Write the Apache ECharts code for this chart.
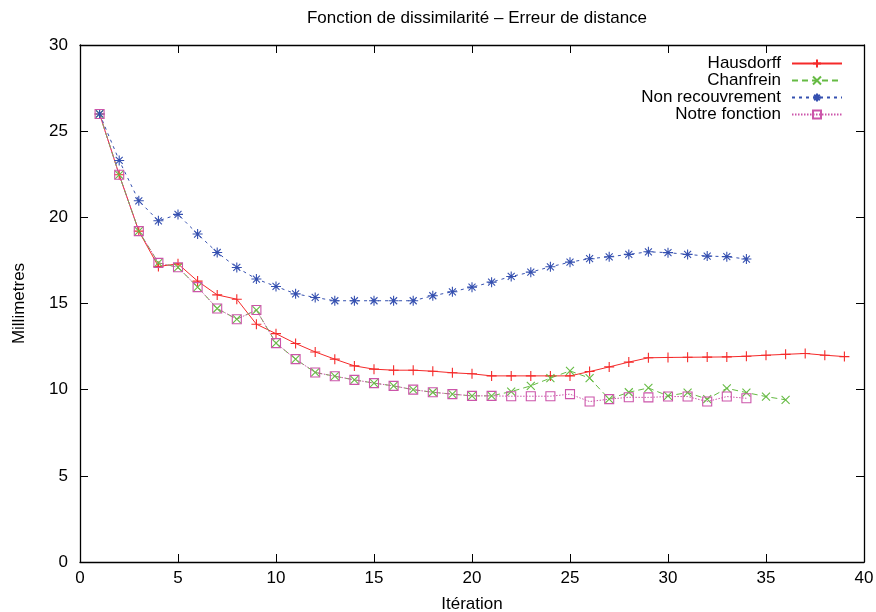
<!DOCTYPE html>
<html><head><meta charset="utf-8">
<script src="https://cdn.jsdelivr.net/npm/echarts@6/dist/echarts.min.js"></script>
<style>html,body{margin:0;padding:0;background:#fff}#c{width:876px;height:612px}</style>
</head><body><div id="c"></div>
<script>
const iterations = [1,2,3,4,5,6,7,8,9,10,11,12,13,14,15,16,17,18,19,20,21,22,23,24,25,26,27,28,29,30,31,32,33,34,35,36,37,38,39];
const hausdorff = [26.0,22.47,19.2,17.15,17.3,16.3,15.5,15.25,13.8,13.25,12.68,12.19,11.77,11.38,11.19,11.13,11.13,11.07,10.98,10.92,10.8,10.8,10.8,10.8,10.8,11.05,11.32,11.6,11.85,11.87,11.88,11.89,11.9,11.94,12.0,12.05,12.1,12.0,11.92];
const chanfrein = [26.0,22.47,19.2,17.36,17.1,15.95,14.71,14.09,14.62,12.7,11.77,11.0,10.78,10.57,10.38,10.22,10.0,9.85,9.74,9.64,9.64,9.89,10.22,10.67,11.09,10.67,9.45,9.85,10.1,9.64,9.83,9.45,10.08,9.83,9.6,9.41];
const nonRecouvrement = [26.0,23.3,20.96,19.8,20.17,19.03,17.96,17.09,16.42,15.99,15.56,15.35,15.16,15.16,15.16,15.16,15.16,15.45,15.68,15.95,16.24,16.57,16.82,17.13,17.4,17.6,17.71,17.85,18.0,17.95,17.85,17.75,17.72,17.58];
const notreFonction = [26.0,22.47,19.2,17.36,17.1,15.95,14.71,14.09,14.62,12.7,11.77,11.0,10.78,10.57,10.38,10.22,10.0,9.85,9.74,9.64,9.64,9.62,9.62,9.62,9.74,9.31,9.45,9.56,9.55,9.6,9.6,9.31,9.6,9.5];
const seriesNames = ['Hausdorff','Chanfrein','Non recouvrement','Notre fonction'];

function pairs(vals){ return vals.map((v,i)=>[iterations[i], v]); }
const FONT = '"Liberation Sans", Arial, sans-serif';
const sym = {
  plus: 'path://M0,5L10,5M5,0L5,10',
  cross: 'path://M0,0L10,10M10,0L0,10',
  star: 'path://M0,5L10,5M5,0L5,10M1.5,1.5L8.5,8.5M8.5,1.5L1.5,8.5',
  square: 'path://M0,0L10,0L10,10L0,10Z'
};
function mk(name, data, color, symbol, size, dash){
  return {
    name, type:'line', data: pairs(data), symbol, symbolSize:size,
    showAllSymbol:true, animation:false,
    lineStyle:{color, width:1, type:dash},
    itemStyle:{color:'rgba(0,0,0,0)', borderColor:color, borderWidth:1.1},
    emphasis:{disabled:true}
  };
}
const axisCommon = {
  type:'value', min:0, interval:5,
  axisLine:{show:true, onZero:false, lineStyle:{color:'#000', width:1.3}},
  axisTick:{show:true, inside:true, length:8, lineStyle:{color:'#000', width:1}},
  splitLine:{show:false}
};
const chart = echarts.init(document.getElementById('c'), null, {renderer:'canvas'});
chart.setOption({
  backgroundColor:'#fff',
  animation:false,
  title:{text:'Fonction de dissimilarité – Erreur de distance', left:472, textAlign:'center', top:5,
    textStyle:{fontFamily:FONT, fontSize:17, fontWeight:'normal', color:'#000'}},
  grid:{left:80, right:12, top:45, bottom:50, containLabel:false, outerBoundsMode:'none'},
  legend:{
    orient:'vertical', right:28, top:50, align:'right',
    itemWidth:50, itemHeight:10, itemGap:0,
    textStyle:{fontFamily:FONT, fontSize:17, lineHeight:17, color:'#000', padding:[0,6,0,0]},
    data: seriesNames
  },
  xAxis:[
    Object.assign({}, axisCommon, {max:40, position:'bottom',
      axisLabel:{fontFamily:FONT, fontSize:17, color:'#000', margin:8},
      name:'Itération', nameLocation:'middle', nameGap:34,
      nameTextStyle:{fontFamily:FONT, fontSize:17, color:'#000'}}),
    Object.assign({}, axisCommon, {max:40, position:'top', axisLabel:{show:false}})
  ],
  yAxis:[
    Object.assign({}, axisCommon, {max:30, position:'left',
      axisLabel:{fontFamily:FONT, fontSize:17, color:'#000', margin:12},
      name:'Millimetres', nameLocation:'middle', nameGap:52,
      nameTextStyle:{fontFamily:FONT, fontSize:17, color:'#000'}}),
    Object.assign({}, axisCommon, {max:30, position:'right', axisLabel:{show:false}})
  ],
  series:[
    mk(seriesNames[0], hausdorff, '#f52a2a', sym.plus, 10, 'solid'),
    mk(seriesNames[1], chanfrein, '#66bb44', sym.cross, 8, [6,4]),
    mk(seriesNames[2], nonRecouvrement, '#3550b0', sym.star, 10, [3,4]),
    mk(seriesNames[3], notreFonction, '#cc55aa', sym.square, 9, [1.5,1.5])
  ]
});
</script></body></html>
